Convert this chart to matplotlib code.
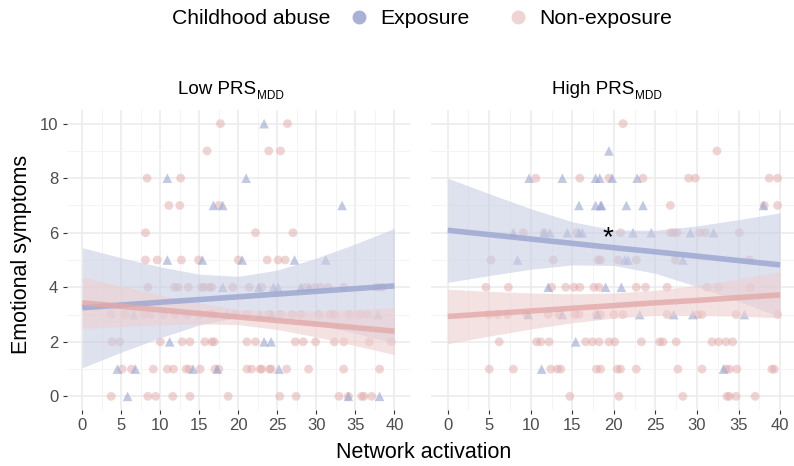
import numpy as np
import matplotlib
matplotlib.use('Agg')
import matplotlib.pyplot as plt
from matplotlib.lines import Line2D

plt.rcParams['font.family'] = ['Liberation Sans', 'DejaVu Sans']

# --- Data ---
# Low PRS panel, exposure (triangles)
low_exp_x = [23.3, 10.9, 21.0, 16.8, 18.0, 33.3, 10.9, 15.4, 20.5, 27.2, 31.2,
             18.0, 22.6, 24.5, 25.1, 28.0, 29.1, 6.6, 18.5, 22.8, 24.3, 37.9,
             11.2, 23.3, 24.2, 4.5, 6.8, 14.2, 17.3, 25.2, 5.8, 34.1, 38.1]
low_exp_y = [10, 8, 8, 7, 7, 7, 5, 5, 5, 5, 5,
             4, 4, 4, 4, 4, 4, 3, 3, 3, 3, 3,
             2, 2, 2, 1, 1, 1, 1, 1, 0, 0, 0]

# Low PRS panel, non-exposure (circles)
low_non_x = [17.7, 26.3, 16.0, 23.9, 25.4, 8.3, 12.6, 11.1, 12.5, 17.5,
             8.1, 22.2, 27.0,
             8.1, 9.6, 12.7, 14.9, 20.0, 23.7, 25.1, 26.0,
             8.4, 11.8, 12.3, 13.6, 15.3, 15.6, 16.3, 16.6, 19.3, 21.4, 23.0,
             28.6, 29.8, 30.5, 31.5, 33.5, 37.7, 38.4,
             3.7, 5.5, 7.9, 8.7, 10.4, 11.9, 13.4, 15.0, 16.4, 16.8, 19.6,
             21.1, 23.9, 25.4, 26.9, 28.0, 30.3, 31.8, 32.3, 34.2, 35.5, 36.5,
             3.8, 4.8, 10.0, 12.8, 13.8, 15.7, 16.6, 16.9, 21.1, 22.2, 27.3,
             28.3, 29.9, 32.3, 33.5, 36.8, 39.6,
             5.1, 6.3, 9.1, 10.9, 11.7, 13.3, 13.7, 15.1, 17.0, 17.5, 21.1,
             21.7, 22.8, 23.0, 24.0, 24.2, 26.2, 29.0, 33.5, 38.1,
             3.7, 8.4, 9.4, 11.6, 13.8, 18.7, 25.3, 27.4, 32.9, 34.1, 35.8,
             36.1, 37.1]
low_non_y = [10, 10, 9, 9, 9, 8, 8, 7, 7, 7,
             6, 6, 6,
             5, 5, 5, 5, 5, 5, 5, 5,
             4, 4, 4, 4, 4, 4, 4, 4, 4, 4, 4,
             4, 4, 4, 4, 4, 4, 4,
             3, 3, 3, 3, 3, 3, 3, 3, 3, 3, 3,
             3, 3, 3, 3, 3, 3, 3, 3, 3, 3, 3,
             2, 2, 2, 2, 2, 2, 2, 2, 2, 2, 2,
             2, 2, 2, 2, 2, 2,
             1, 1, 1, 1, 1, 1, 1, 1, 1, 1, 1,
             1, 1, 1, 1, 1, 1, 1, 1, 1,
             0, 0, 0, 0, 0, 0, 0, 0, 0, 0, 0,
             0, 0]

# High PRS panel, exposure (triangles)
high_exp_x = [19.4, 9.8, 13.8, 17.8, 18.3, 19.8, 22.8,
              15.8, 17.8, 18.4, 18.5, 21.5, 23.5, 38.0,
              7.9, 11.6, 12.3, 14.4, 15.8, 16.2, 22.3, 24.5, 29.2, 32.0,
              8.4, 21.3, 21.7, 28.3, 12.1, 19.0, 20.9,
              9.7, 13.8, 18.0, 23.1, 27.2, 29.5, 35.7, 15.4, 11.3, 33.2]
high_exp_y = [9, 8, 8, 8, 8, 8, 8,
              7, 7, 7, 7, 7, 7, 7,
              6, 6, 6, 6, 6, 6, 6, 6, 6, 6,
              5, 5, 5, 5, 4, 4, 4,
              3, 3, 3, 3, 3, 3, 3, 2, 1, 1]

# High PRS panel, non-exposure (circles)
high_non_x = [21.1, 32.4, 10.6, 15.9, 19.4, 23.5, 29.0, 29.8, 38.7, 39.7,
              26.8, 38.1, 39.7,
              9.1, 11.6, 15.5, 20.8, 26.8, 27.2, 27.6, 30.3, 31.0, 35.1,
              5.2, 12.7, 18.1, 18.4, 20.5, 22.7, 27.4, 36.3,
              4.6, 7.3, 12.5, 14.2, 15.2, 15.9, 17.6, 18.2, 22.7, 23.8, 26.4,
              31.2, 32.6, 36.4,
              5.0, 6.0, 7.2, 9.5, 12.1, 13.4, 15.3, 15.8, 17.9, 18.4, 20.0,
              21.1, 26.4, 30.1, 30.6, 34.7, 39.7,
              6.2, 10.7, 11.2, 12.2, 16.6, 17.4, 18.2, 19.4, 20.1, 23.3, 25.5,
              25.9, 27.5, 31.8, 32.6, 33.5, 34.3,
              5.0, 7.9, 12.4, 13.2, 13.6, 17.9, 18.4, 20.4, 20.8, 22.7, 27.7,
              30.6, 33.5, 33.9, 34.8, 39.0, 39.3,
              14.7, 20.6, 28.3, 33.6, 33.9, 34.7, 37.0]
high_non_y = [10, 9, 8, 8, 8, 8, 8, 8, 8, 8,
              7, 7, 7,
              6, 6, 6, 6, 6, 6, 6, 6, 6, 6,
              5, 5, 5, 5, 5, 5, 5, 5,
              4, 4, 4, 4, 4, 4, 4, 4, 4, 4, 4,
              4, 4, 4,
              3, 3, 3, 3, 3, 3, 3, 3, 3, 3, 3,
              3, 3, 3, 3, 3, 3,
              2, 2, 2, 2, 2, 2, 2, 2, 2, 2, 2,
              2, 2, 2, 2, 2, 2,
              1, 1, 1, 1, 1, 1, 1, 1, 1, 1, 1,
              1, 1, 1, 1, 1, 1,
              0, 0, 0, 0, 0, 0, 0]

# fitted lines and 95% bands, read at x = 0, 5, ..., 40
fit_x = [0, 5, 10, 15, 20, 25, 30, 35, 40]
low_exp_fit = [3.25, 3.35, 3.45, 3.55, 3.65, 3.75, 3.85, 3.95, 4.05]
low_exp_lo = [1.05, 1.62, 2.15, 2.62, 2.90, 2.87, 2.63, 2.31, 1.95]
low_exp_hi = [5.45, 5.08, 4.75, 4.48, 4.40, 4.63, 5.07, 5.59, 6.16]
low_non_fit = [3.43, 3.30, 3.17, 3.04, 2.91, 2.78, 2.65, 2.52, 2.39]
low_non_lo = [2.49, 2.56, 2.62, 2.66, 2.63, 2.45, 2.18, 1.86, 1.53]
low_non_hi = [4.37, 4.04, 3.72, 3.42, 3.19, 3.11, 3.13, 3.18, 3.25]
high_exp_fit = [6.09, 5.93, 5.77, 5.61, 5.45, 5.30, 5.14, 4.98, 4.82]
high_exp_lo = [4.18, 4.43, 4.66, 4.82, 4.80, 4.51, 4.03, 3.48, 2.91]
high_exp_hi = [8.00, 7.43, 6.88, 6.40, 6.10, 6.09, 6.25, 6.48, 6.73]
high_non_fit = [2.93, 3.03, 3.13, 3.23, 3.33, 3.43, 3.52, 3.62, 3.72]
high_non_lo = [1.93, 2.21, 2.47, 2.70, 2.87, 2.97, 2.97, 2.94, 2.88]
high_non_hi = [3.93, 3.85, 3.79, 3.76, 3.79, 3.89, 4.07, 4.30, 4.57]

exp_col = '#9AA5D0'
non_col = '#E3A9A9'
exp_band = '#C9CDE3'
non_band = '#EECFCF'

W, H = 794, 466
fig = plt.figure(figsize=(W / 100, H / 100), dpi=100)

ax1 = fig.add_axes([66.7 / W, 1 - 410 / H, 343.3 / W, 300 / H])
ax2 = fig.add_axes([431.1 / W, 1 - 410 / H, 365.6 / W, 300 / H])

panels = [
    (ax1, low_exp_x, low_exp_y, low_non_x, low_non_y,
     low_exp_fit, low_exp_lo, low_exp_hi, low_non_fit, low_non_lo, low_non_hi),
    (ax2, high_exp_x, high_exp_y, high_non_x, high_non_y,
     high_exp_fit, high_exp_lo, high_exp_hi, high_non_fit, high_non_lo, high_non_hi),
]

for (ax, ex, ey, nx, ny, ef, elo, ehi, nf, nlo, nhi) in panels:
    ax.set_xlim(-2, 42)
    ax.set_ylim(-0.5, 10.5)
    ax.set_xticks(range(0, 41, 5))
    ax.set_xticks(np.arange(2.5, 40, 5), minor=True)
    ax.set_yticks(range(0, 11, 2))
    ax.set_yticks(range(1, 10, 2), minor=True)
    ax.grid(True, which='major', color='#EBEBEB', lw=1.1, zorder=0)
    ax.grid(True, which='minor', color='#F2F2F2', lw=0.6, zorder=0)
    for s in ax.spines.values():
        s.set_visible(False)
    ax.tick_params(which='minor', length=0)
    ax.tick_params(which='major', length=3, width=0.8, color='#333333',
                   labelsize=12, labelcolor='#4D4D4D', pad=3)

    ax.scatter(nx, ny, s=40, marker='o', color=non_col, alpha=0.5,
               edgecolors='none', zorder=2)
    ax.scatter(ex, ey, s=48, marker='^', color=exp_col, alpha=0.6,
               edgecolors='none', zorder=2)

    ax.fill_between(fit_x, elo, ehi, color=exp_band, alpha=0.6, lw=0, zorder=3)
    ax.fill_between(fit_x, nlo, nhi, color=non_band, alpha=0.6, lw=0, zorder=3)
    ax.plot(fit_x, ef, color=exp_col, lw=4, alpha=0.8, solid_capstyle='butt', zorder=4)
    ax.plot(fit_x, nf, color=non_col, lw=4, alpha=0.8, solid_capstyle='butt', zorder=4)

ax2.tick_params(axis='y', length=0, labelleft=False)
ax2.text(19.3, 5.8, '*', fontsize=20, ha='center', va='center', color='black', zorder=5)

# strip titles with small subscript
for cx, word in [(178, 'Low PRS'), (552, 'High PRS')]:
    t = fig.text(cx / W, 1 - 90 / H, word, ha='left', va='center', fontsize=13.5)
    fig.canvas.draw()
    bb = t.get_window_extent()
    fig.text(bb.x1 / W + 0.5 / W, 1 - 96 / H, 'MDD', ha='left', va='center', fontsize=8.5)

fig.text(22 / W, 1 - 254 / H, 'Emotional symptoms', rotation=90, ha='center',
         va='center', fontsize=15.5)
fig.text(424 / W, 1 - 453 / H, 'Network activation', ha='center', va='center', fontsize=15.5)

# legend
fig.text(172 / W, 1 - 18 / H, 'Childhood abuse', ha='left', va='center', fontsize=15.2)
fig.add_artist(Line2D([359 / W], [1 - 17 / H], transform=fig.transFigure, marker='o',
                      ls='none', color='#A9B1D6', markersize=9))
fig.text(380 / W, 1 - 18 / H, 'Exposure', ha='left', va='center', fontsize=15.2)
fig.add_artist(Line2D([518 / W], [1 - 17 / H], transform=fig.transFigure, marker='o',
                      ls='none', color='#F0D4D4', markersize=9))
fig.text(539 / W, 1 - 18 / H, 'Non-exposure', ha='left', va='center', fontsize=15.2)

fig.savefig('out.png', dpi=100)
